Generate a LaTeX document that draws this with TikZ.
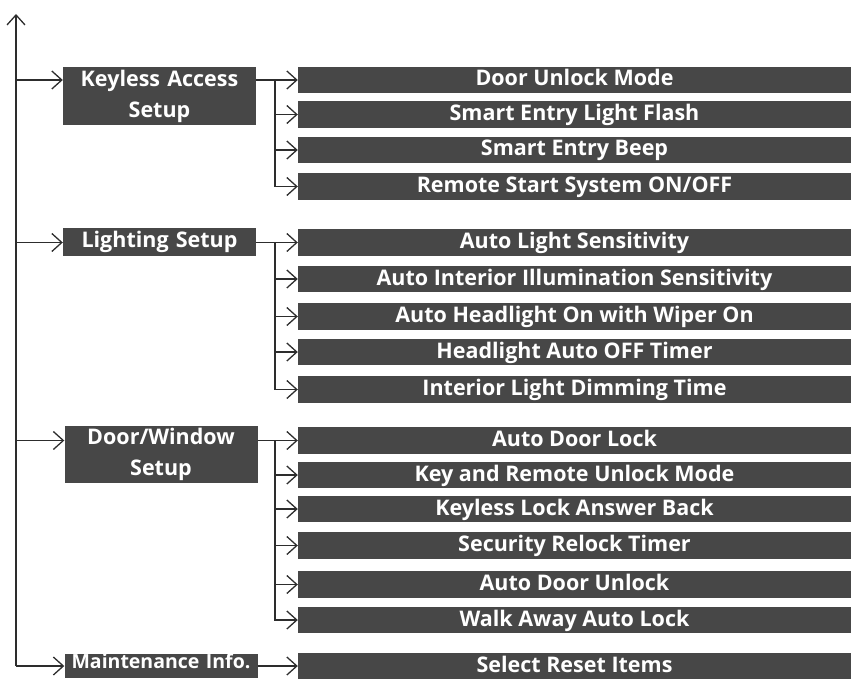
\documentclass[tikz,border=0pt]{standalone}
\usepackage{fontspec}
\setmainfont{Open Sans}
\usetikzlibrary{arrows.meta}
\definecolor{boxgray}{RGB}{71,71,71}
\definecolor{linegray}{RGB}{45,45,45}
\tikzset{
	menu/.style={fill=boxgray,text=white,inner sep=0pt,text width=193pt,align=center,
		font=\fontsize{21.5}{31}\selectfont\bfseries},
	oneline/.style={text height=16pt,text depth=6pt},
	item/.style={fill=boxgray,text=white,inner sep=0pt,minimum width=553pt,minimum height=26.5pt,
		text height=16pt,text depth=4pt,font=\fontsize{21.5}{24}\selectfont\bfseries},
	link/.style={draw=linegray,line width=1.3pt,-{Straight Barb[length=10pt,width=18pt,line width=1.3pt]}}
}
\begin{document}
\begin{tikzpicture}[x=1pt,y=-1pt]
	\useasboundingbox (0,0) rectangle (854,682);
	\node[menu,minimum height=58pt] (key) at (159.5,96) {Keyless Access\\Setup};
	\node[menu,oneline,minimum height=28pt] (lit) at (159.5,242) {Lighting Setup};
	\node[menu,minimum height=57pt] (door) at (161,454.5) {Door/Window\\Setup};
	\node[menu,minimum height=24pt,text height=13pt,text depth=9pt,
		font=\fontsize{19.5}{22}\selectfont\bfseries] (mnt) at (161,666) {Maintenance Info.};
	\foreach \n/\y/\t in {k1/80/Door Unlock Mode,k2/114.5/Smart Entry Light Flash,
		k3/150/Smart Entry Beep,k4/186.5/{Remote Start System ON/OFF},
		l1/242.5/Auto Light Sensitivity,l2/279/Auto Interior Illumination Sensitivity,
		l3/316.5/Auto Headlight On with Wiper On,l4/352/Headlight Auto OFF Timer,
		l5/389.5/Interior Light Dimming Time,
		d1/440.5/Auto Door Lock,d2/475/Key and Remote Unlock Mode,
		d3/509/Keyless Lock Answer Back,d4/545.5/Security Relock Timer,
		d5/584.5/Auto Door Unlock,d6/620/Walk Away Auto Lock,
		m1/666/Select Reset Items}
		{\node[item] (\n) at (574.5,\y) {\t};}
	\coordinate (top) at (16,14);
	\coordinate (bot) at (16,666);
	\coordinate (br) at (275,0);
	\draw[link] (bot) -- (top);
	\draw[link] (bot) -- (mnt.west);
	\foreach \a/\b in {k1/key,l1/lit,d1/door}
		{\draw[link] (\a -| top) -- (\a -| \b.west);
		\draw[link] (\a -| \b.east) -- (\a.west);}
	\foreach \a/\n in {k1/k2,k1/k3,k1/k4,l1/l2,l1/l3,l1/l4,l1/l5,d1/d2,d1/d3,d1/d4,d1/d5,d1/d6}
		{\draw[link] (br |- \a) |- (\n.west);}
	\draw[link] (mnt.east) -- (m1.west);
\end{tikzpicture}
\end{document}
